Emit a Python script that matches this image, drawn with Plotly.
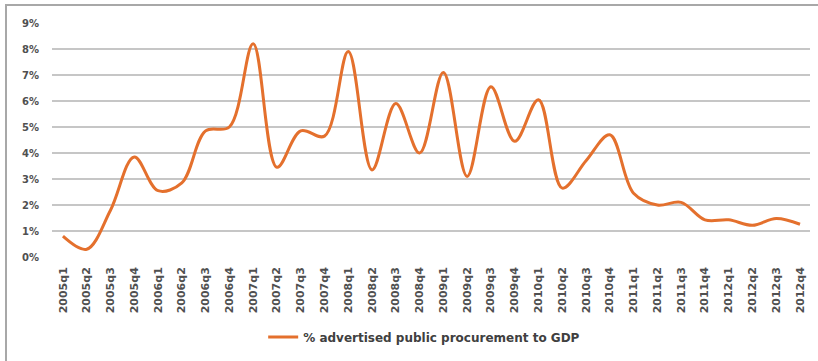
import plotly.graph_objects as go

quarters = [f"{y}q{q}" for y in range(2005, 2013) for q in range(1, 5)]
values = [0.8, 0.3, 1.8, 3.85, 2.55, 2.85, 4.85, 5.0,
          8.2, 3.45, 4.85, 4.65, 7.9, 3.35, 5.9, 4.0,
          7.1, 3.1, 6.55, 4.45, 6.05, 2.65, 3.7, 4.7,
          2.45, 2.0, 2.1, 1.43, 1.43, 1.22, 1.48, 1.26]
y_ticks = list(range(0, 10))
y_labels = [f"{v}%" for v in y_ticks]

fig = go.Figure()
fig.add_trace(go.Scatter(
    x=list(range(len(quarters))), y=values, mode="lines",
    name="% advertised public procurement to GDP",
    line=dict(color="#E4702D", width=3, shape="spline", smoothing=1.0),
))

L, R, T, B = 52, 8, 23, 104
W, H = 818, 361
pw, ph = W - L - R, H - T - B
FAM = "DejaVu Sans, Verdana, sans-serif"

fig.update_layout(
    width=W, height=H,
    margin=dict(l=L, r=R, t=T, b=B),
    paper_bgcolor="white", plot_bgcolor="white",
    font=dict(family=FAM, color="#404040"),
    showlegend=True,
    legend=dict(orientation="h", x=0.491, xanchor="center", y=(257 - 337) / ph,
                yanchor="middle", font=dict(size=12, color="#404040",
                                             family=FAM, weight="bold"),
                bgcolor="rgba(0,0,0,0)"),
    xaxis=dict(tickmode="array", tickvals=list(range(len(quarters))), ticktext=quarters,
               tickangle=-90, range=[-0.46, 31.42], showgrid=False, zeroline=False,
               showline=False, ticks="", ticklabelstandoff=7,
               tickfont=dict(size=11, color="#505050", weight="bold", family=FAM)),
    yaxis=dict(tickmode="array", tickvals=y_ticks, ticktext=y_labels, range=[0, 9],
               showgrid=True, gridcolor="#C6C6C6", gridwidth=2, zeroline=False,
               showline=False, ticks="", ticklabelstandoff=12,
               tickfont=dict(size=10, color="#505050", weight="bold", family=FAM)),
    shapes=[dict(type="rect", xref="paper", yref="paper",
                 x0=(6 - L) / pw, x1=(830 - L) / pw,
                 y0=(257 - 370) / ph, y1=(257 - 5) / ph,
                 line=dict(color="#A8A8A8", width=2), fillcolor="rgba(0,0,0,0)",
                 layer="below")],
)
fig.write_html("out.html")
